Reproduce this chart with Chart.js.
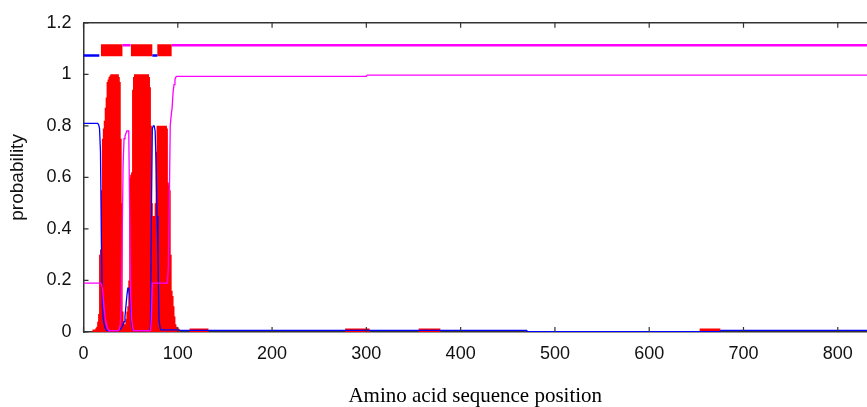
<!DOCTYPE html>
<html>
<head>
<meta charset="utf-8">
<script src="https://cdn.jsdelivr.net/npm/chart.js"></script>
<style>
  body { margin: 0; background: #fff; }
  #wrap { width: 867px; height: 407px; }
</style>
</head>
<body>
<div id="wrap"><canvas id="c"></canvas></div>
<script>
// tick labels
const xTicks = [0, 100, 200, 300, 400, 500, 600, 700, 800];
const yTicks = [0, 0.2, 0.4, 0.6, 0.8, 1, 1.2];
const yTickLabels = ['0', '0.2', '0.4', '0.6', '0.8', '1', '1.2'];
const seqLength = 831;

// per residue probabilities, residues 0..102
const tmProb = [
  0, 0, 0, 0, 0, 0, 0, 0, 0, 0,                               // 0-9
  0.01, 0.01, 0.01, 0.015, 0.02, 0.04, 0.07, 0.3, 0.32, 0.55, // 10-19
  0.75, 0.79, 0.82, 0.87, 0.91, 0.97, 0.98, 0.99, 0.995, 1,   // 20-29
  1, 1, 1, 1, 1, 1, 1, 1, 0.99, 0.97,                         // 30-39
  0.75, 0.5, 0.08, 0.04, 0.03, 0.05, 0.08, 0.1, 0.2, 0.6,     // 40-49
  0.61, 0.62, 0.94, 0.99, 1, 1, 1, 1, 1, 1,                   // 50-59
  1, 1, 1, 1, 1, 1, 1, 1, 1, 1,                               // 60-69
  0.99, 0.95, 0.8, 0.5, 0.45, 0.45, 0.5, 0.7, 0.8, 0.8,       // 70-79
  0.8, 0.8, 0.8, 0.8, 0.8, 0.8, 0.8, 0.8, 0.8, 0.79,          // 80-89
  0.58, 0.57, 0.55, 0.3, 0.16, 0.14, 0.1, 0.06, 0.03, 0.02,   // 90-99
  0.014, 0.014, 0.01                                          // 100-102
];
const insideProb = [
  0.81, 0.81, 0.81, 0.81, 0.81, 0.81, 0.81, 0.81, 0.81, 0.81,
  0.81, 0.81, 0.81, 0.81, 0.81, 0.81, 0.805, 0.79, 0.7, 0.35,
  0.1, 0.05, 0.03, 0.015, 0.008, 0.005, 0.005, 0.005, 0.005, 0.005,
  0.005, 0.005, 0.005, 0.005, 0.005, 0.005, 0.005, 0.005, 0.008, 0.01,
  0.015, 0.02, 0.03, 0.04, 0.06, 0.1, 0.14, 0.17, 0.17, 0.14,
  0.08, 0.03, 0.01, 0.005, 0.005, 0.005, 0.005, 0.005, 0.005, 0.005,
  0.005, 0.005, 0.005, 0.005, 0.005, 0.005, 0.005, 0.005, 0.005, 0.005,
  0.005, 0.02, 0.45, 0.79, 0.8, 0.8, 0.78, 0.65, 0.45, 0.3,
  0.05, 0.02, 0.008, 0.008, 0.008, 0.008, 0.008, 0.008, 0.008, 0.008,
  0.008, 0.008, 0.008, 0.008, 0.008, 0.008, 0.008, 0.008, 0.008, 0.008,
  0.008, 0.007, 0.006
];
const outsideProb = [
  0.19, 0.19, 0.19, 0.19, 0.19, 0.19, 0.19, 0.19, 0.19, 0.19,
  0.19, 0.19, 0.19, 0.19, 0.19, 0.19, 0.19, 0.19, 0.19, 0.185,
  0.17, 0.13, 0.09, 0.06, 0.035, 0.02, 0.01, 0.005, 0.005, 0.005,
  0.005, 0.005, 0.005, 0.005, 0.005, 0.005, 0.005, 0.005, 0.01, 0.03,
  0.1, 0.35, 0.65, 0.75, 0.76, 0.77, 0.78, 0.78, 0.78, 0.45,
  0.15, 0.05, 0.02, 0.005, 0.005, 0.005, 0.005, 0.005, 0.005, 0.005,
  0.005, 0.005, 0.005, 0.005, 0.005, 0.005, 0.005, 0.005, 0.005, 0.005,
  0.005, 0.005, 0.05, 0.19, 0.19, 0.19, 0.19, 0.19, 0.19, 0.19,
  0.19, 0.19, 0.19, 0.19, 0.19, 0.19, 0.19, 0.19, 0.19, 0.19,
  0.25, 0.5, 0.8, 0.84, 0.87, 0.93, 0.96, 0.98, 0.99, 0.992,
  0.992, 0.992, 0.992
];

// rest of the sequence, sparse points
const tmTailPos  = [103, 112, 113, 132, 133, 277, 278, 303, 304, 355, 356, 378, 379, 653, 654, 675, 676, 831];
const tmTailProb = [0, 0, 0.014, 0.014, 0, 0, 0.014, 0.014, 0, 0, 0.014, 0.014, 0, 0, 0.014, 0.014, 0, 0];
const inTailPos  = [103, 470, 471, 675, 676, 831];
const inTailProb = [0.006, 0.006, 0.001, 0.001, 0.006, 0.006];
const outTailPos  = [103, 300, 301, 831];
const outTailProb = [0.992, 0.992, 0.997, 0.997];

// predicted topology bar at the top
const insideBars  = [[0, 16.8], [73, 78.3]];
const tmBars      = [[18.5, 41.3], [50.3, 73], [78.3, 93.5]];
const outsideBars = [[41.3, 49.8], [93.5, 831]];
const insideBarY = 1.073;
const tmBarY = 1.093;
const outsideBarY = 1.113;

function toPoints(values, tailPos, tailVals) {
  const pts = values.map((v, i) => ({ x: i, y: v }));
  tailPos.forEach((p, i) => pts.push({ x: p, y: tailVals[i] }));
  return pts;
}

function barSets(bars, y, color, width) {
  return bars.map(b => ({
    data: [{ x: b[0], y: y }, { x: b[1], y: y }],
    borderColor: color,
    borderWidth: width,
    borderCapStyle: 'butt',
    pointRadius: 0,
    fill: false,
  }));
}

// inward tick marks and top frame line, like gnuplot
const inwardTicks = {
  id: 'inwardTicks',
  afterDatasetsDraw(chart) {
    const { ctx, chartArea: a, scales: { x, y } } = chart;
    ctx.save();
    ctx.strokeStyle = '#333';
    ctx.lineWidth = 1.2;
    ctx.beginPath();
    x.ticks.forEach(t => {
      const px = x.getPixelForValue(t.value);
      ctx.moveTo(px, a.bottom);
      ctx.lineTo(px, a.bottom - 5);
      ctx.moveTo(px, a.top);
      ctx.lineTo(px, a.top + 5);
    });
    y.ticks.forEach(t => {
      const py = y.getPixelForValue(t.value);
      ctx.moveTo(a.left, py);
      ctx.lineTo(a.left + 5, py);
    });
    ctx.stroke();
    ctx.lineWidth = 1.5;
    ctx.beginPath();
    ctx.moveTo(a.left, a.top);
    ctx.lineTo(a.right, a.top);
    ctx.stroke();
    ctx.restore();
  },
};

const datasets = [
  {
    label: 'outside',
    data: toPoints(outsideProb, outTailPos, outTailProb),
    borderColor: '#ff00ff',
    borderWidth: 1.3,
    pointRadius: 0,
    fill: false,
  },
  {
    label: 'inside',
    data: toPoints(insideProb, inTailPos, inTailProb),
    borderColor: '#0000ff',
    borderWidth: 1.3,
    pointRadius: 0,
    fill: false,
  },
  ...barSets(outsideBars, outsideBarY, '#ff00ff', 2.6),
  ...barSets(insideBars, insideBarY, '#0000ff', 2.6),
  ...barSets(tmBars, tmBarY, '#ff0000', 12),
  {
    label: 'transmembrane',
    data: toPoints(tmProb, tmTailPos, tmTailProb),
    borderWidth: 0,
    borderColor: 'rgba(0,0,0,0)',
    backgroundColor: '#ff0000',
    stepped: 'middle',
    pointRadius: 0,
    fill: 'origin',
  },
];

new Chart(document.getElementById('c'), {
  type: 'line',
  data: { datasets: datasets },
  plugins: [inwardTicks],
  options: {
    responsive: true,
    maintainAspectRatio: false,
    animation: false,
    layout: { padding: { top: 20, right: 0, left: 0, bottom: 0 } },
    plugins: {
      legend: { display: false },
      tooltip: { enabled: false },
    },
    scales: {
      x: {
        type: 'linear',
        min: 0,
        max: seqLength,
        afterBuildTicks: s => { s.ticks = xTicks.map(v => ({ value: v })); },
        afterFit: s => { s.height = 75; },
        grid: { display: false, drawTicks: false },
        border: { display: true, color: '#333', width: 1.5 },
        ticks: {
          padding: 11,
          maxRotation: 0,
          color: '#111',
          font: { family: 'Liberation Sans, Arial, sans-serif', size: 18 },
        },
        title: {
          display: true,
          text: 'Amino acid sequence position',
          color: '#000',
          padding: { top: 0, bottom: 0 },
          font: { family: 'Liberation Serif, Times New Roman, serif', size: 21, lineHeight: 1 },
        },
      },
      y: {
        min: 0,
        max: 1.2,
        afterBuildTicks: s => { s.ticks = yTicks.map(v => ({ value: v })); },
        afterFit: s => { s.width = 83.5; },
        grid: { display: false, drawTicks: false },
        border: { display: true, color: '#333', width: 1.5 },
        ticks: {
          padding: 12,
          color: '#111',
          font: { family: 'Liberation Sans, Arial, sans-serif', size: 18 },
          callback: (value, index) => yTickLabels[index],
        },
        title: {
          display: true,
          text: 'probability',
          color: '#111',
          padding: { top: 8, bottom: 0 },
          font: { family: 'Liberation Sans, Arial, sans-serif', size: 19, lineHeight: 1 },
        },
      },
    },
  },
});
</script>
</body>
</html>
